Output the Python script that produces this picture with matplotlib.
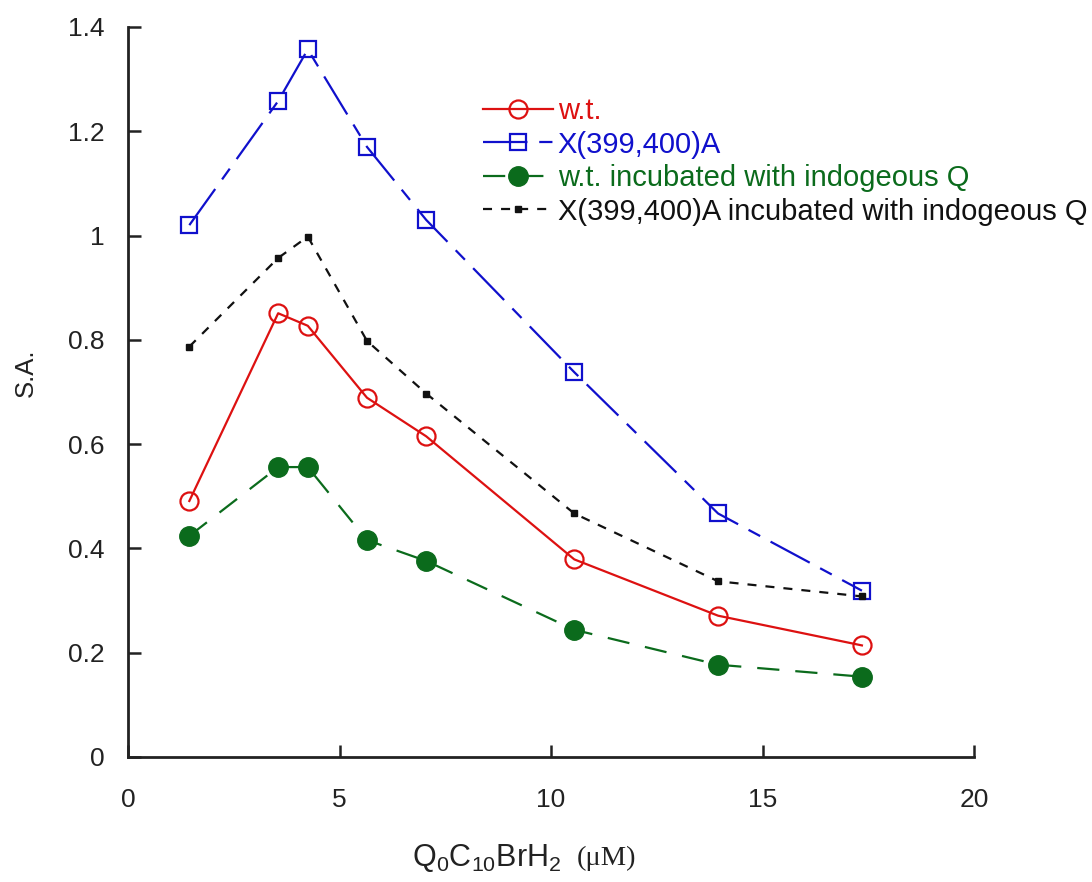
import matplotlib
matplotlib.use("Agg")
import matplotlib.pyplot as plt

plt.rcParams['font.family'] = ['Liberation Sans', 'DejaVu Sans']
plt.rcParams['mathtext.fontset'] = 'custom'
plt.rcParams['mathtext.rm'] = 'Liberation Sans'
plt.rcParams['mathtext.it'] = 'Liberation Sans'
plt.rcParams['lines.scale_dashes'] = False

# Substrate concentration (uM)
conc = [1.45, 3.55, 4.25, 5.65, 7.05, 10.55, 13.95, 17.35]

# Specific activity for each preparation
wt = [0.491, 0.851, 0.827, 0.689, 0.615, 0.379, 0.271, 0.214]
mutant = [1.020, 1.258, 1.357, 1.170, 1.030, 0.738, 0.467, 0.319]
wt_q = [0.424, 0.556, 0.556, 0.416, 0.376, 0.244, 0.177, 0.154]
mutant_q = [0.787, 0.957, 0.998, 0.798, 0.697, 0.467, 0.337, 0.308]

labels = ['w.t.', 'X(399,400)A', 'w.t. incubated with indogeous Q',
          'X(399,400)A incubated with indogeous Q']

red = '#dd1111'
blue = '#1010cc'
green = '#0b6b1c'
black = '#111111'

fig = plt.figure(figsize=(10.92, 8.82), dpi=100)
ax = fig.add_axes([128 / 1092, 1 - 757 / 882, 846 / 1092, 730 / 882])

lw = 1.6
ax.plot(conc, wt, color=red, lw=lw, linestyle='-', marker='o',
        markersize=13, markerfacecolor='none', markeredgewidth=1.6,
        markeredgecolor=red, label=labels[0], zorder=3)
ax.plot(conc, mutant, color=blue, lw=lw, linestyle=(0, (32, 8.5, 9.5, 8.5)),
        marker='s', markersize=11, markerfacecolor='none', markeredgewidth=1.6,
        markeredgecolor=blue, label=labels[1], zorder=3)
ax.plot(conc, wt_q, color=green, lw=lw, linestyle=(0, (16, 11.5)),
        marker='o', markersize=14, markerfacecolor=green, markeredgecolor=green,
        label=labels[2], zorder=3)
ax.plot(conc, mutant_q, color=black, lw=lw, linestyle=(0, (6.5, 6.5)),
        marker='s', markersize=4.5, markerfacecolor=black, markeredgecolor=black,
        label=labels[3], zorder=4)

ax.set_xlim(0, 20)
ax.set_ylim(0, 1.4)
ax.set_xticks([0, 5, 10, 15, 20])
ax.set_xticklabels(['0', '5', '10', '15', '20'])
ax.set_yticks([0, 0.2, 0.4, 0.6, 0.8, 1.0, 1.2, 1.4])
ax.set_yticklabels(['0', '0.2', '0.4', '0.6', '0.8', '1', '1.2', '1.4'])

for side in ('top', 'right'):
    ax.spines[side].set_visible(False)
for side in ('left', 'bottom'):
    ax.spines[side].set_linewidth(2.0)
    ax.spines[side].set_color('#222222')

ax.tick_params(axis='both', direction='in', length=9, width=1.8,
               colors='#222222', labelsize=19, labelcolor='#222222')
ax.tick_params(axis='y', pad=17)
ax.tick_params(axis='x', pad=22)

ax.set_ylabel('S.A.', fontsize=18.5, color='#222222')
ax.yaxis.set_label_coords(-0.106, 0.526)

fig.text(561 / 1092, 1 - 858 / 882, r'Q$_0$C$_{10}$BrH$_2$', fontsize=22,
         ha='right', va='center', color='#222222')
fig.text(577 / 1092, 1 - 858 / 882, '(\u03bcM)', fontsize=20.5,
         family=['Liberation Serif', 'DejaVu Serif'], ha='left', va='center',
         color='#222222')

leg = ax.legend(loc='upper left', bbox_to_anchor=(483 / 1092, 1 - 97 / 882),
                bbox_transform=fig.transFigure, frameon=False, fontsize=21,
                handlelength=2.4, handletextpad=0.16, labelspacing=0.19,
                borderaxespad=0, borderpad=0, labelcolor='linecolor')

fig.savefig('out.png', dpi=100)
